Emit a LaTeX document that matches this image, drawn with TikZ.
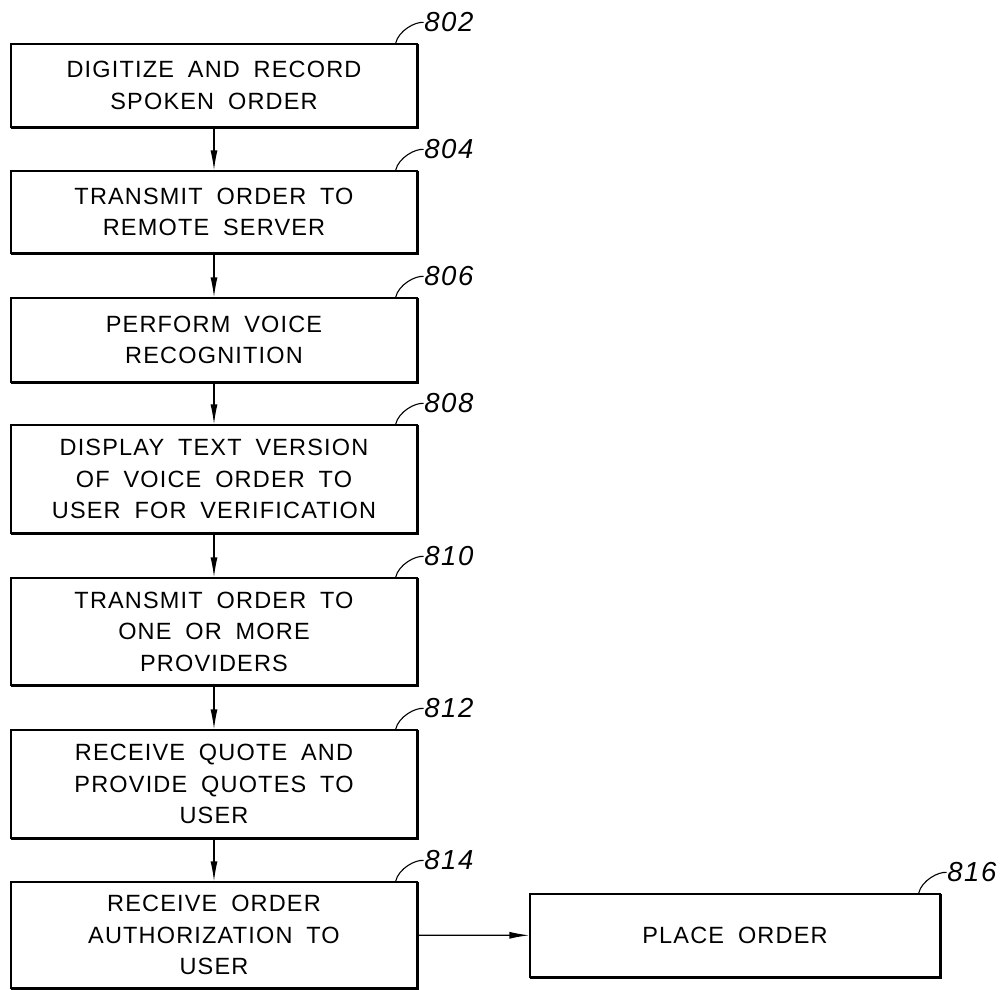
\documentclass[tikz,border=0pt]{standalone}
\usepackage{fontspec}
\usetikzlibrary{arrows.meta}
\newfontfamily\boxfont[LetterSpace=5,WordSpace=1.8]{Liberation Sans}
\newfontfamily\refont[LetterSpace=6]{Liberation Sans}
\tikzset{
  stepbox/.style={draw, line width=1.2pt, minimum width=406pt, align=center,
    inner sep=0pt, font=\boxfont\fontsize{23.5}{31.5}\selectfont},
  flow/.style={line width=1.3pt, -{Latex[length=20pt,width=7pt]}},
  reflabel/.style={anchor=west, inner sep=0pt, font=\refont\itshape\fontsize{27.5}{27.5}\selectfont},
  leader/.style={line width=1.1pt}
}
\newcommand{\shadowedge}[1]{\draw[line width=3.2pt] ([yshift=-0.6pt]#1.north east) -- (#1.south east) -- ([xshift=0.6pt]#1.south west);}
\newcommand{\refmark}[2]{%
  \draw[leader] ([xshift=-22pt]#1.north east) .. controls +(3pt,13pt) and +(-8pt,1pt) .. ([xshift=6pt,yshift=21pt]#1.north east) coordinate (#1lead);
  \node[reflabel] (#1lbl) at ([xshift=0.5pt,yshift=0pt]#1lead) {#2};}
\begin{document}
\begin{tikzpicture}[x=1pt,y=-1pt]
\useasboundingbox (0,0) rectangle (1002,990);
\node[stepbox, minimum height=83pt] (b802) at (214,85.5) {DIGITIZE AND RECORD\\SPOKEN ORDER};
\node[stepbox, minimum height=82pt] (b804) at (214,212) {TRANSMIT ORDER TO\\REMOTE SERVER};
\node[stepbox, minimum height=84pt] (b806) at (214,340) {PERFORM VOICE\\RECOGNITION};
\node[stepbox, minimum height=108pt] (b808) at (214,479) {DISPLAY TEXT VERSION\\OF VOICE ORDER TO\\USER FOR VERIFICATION};
\node[stepbox, minimum height=107pt] (b810) at (214,631.5) {TRANSMIT ORDER TO\\ONE OR MORE\\PROVIDERS};
\node[stepbox, minimum height=108pt] (b812) at (214,784) {RECEIVE QUOTE AND\\PROVIDE QUOTES TO\\USER};
\node[stepbox, minimum height=106pt] (b814) at (214,935) {RECEIVE ORDER\\AUTHORIZATION TO\\USER};
\node[stepbox, minimum height=83pt, minimum width=410pt] (b816) at (735,935.5) {PLACE ORDER};
\foreach \b in {b802,b804,b806,b808,b810,b812,b814,b816} {\shadowedge{\b}}
\draw[flow] (b802) -- (b804);
\draw[flow] (b804) -- (b806);
\draw[flow] (b806) -- (b808);
\draw[flow] (b808) -- (b810);
\draw[flow] (b810) -- (b812);
\draw[flow] (b812) -- (b814);
\draw[flow] (b814) -- (b816);
\refmark{b802}{802}
\refmark{b804}{804}
\refmark{b806}{806}
\refmark{b808}{808}
\refmark{b810}{810}
\refmark{b812}{812}
\refmark{b814}{814}
\refmark{b816}{816}
\end{tikzpicture}
\end{document}
